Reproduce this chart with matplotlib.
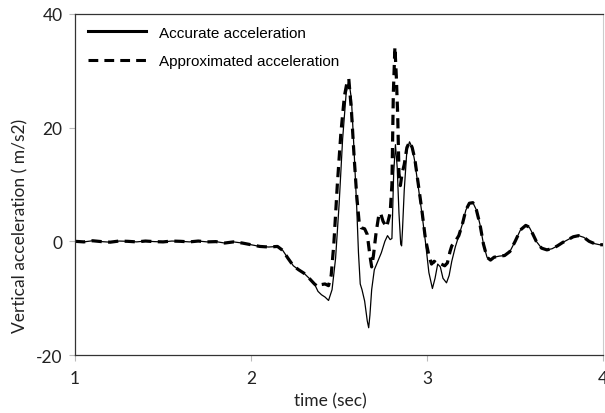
import matplotlib
matplotlib.use("Agg")
import matplotlib.pyplot as plt
from matplotlib.lines import Line2D

plt.rcParams["axes.unicode_minus"] = False

# common quiet start (both curves overlap)
t_start = [1.00, 1.05, 1.10, 1.15, 1.20, 1.25, 1.30, 1.35, 1.40, 1.45, 1.50, 1.55,
           1.60, 1.65, 1.70, 1.75, 1.80, 1.85, 1.90, 1.95, 2.00, 2.05, 2.10, 2.15,
           2.18, 2.21, 2.24, 2.27, 2.30, 2.33, 2.36]
a_start = [0.0, -0.1, 0.1, -0.05, -0.15, 0.05, 0.0, -0.1, 0.05, -0.05, -0.1, 0.05,
           0.0, -0.1, 0.05, -0.1, -0.05, -0.3, -0.1, -0.3, -0.6, -0.9, -1.0, -0.9,
           -1.6, -3.0, -4.3, -5.0, -5.6, -6.5, -7.5]

# accurate acceleration, strong motion part
t_acc_mid = [2.38, 2.40, 2.42, 2.44, 2.46, 2.48, 2.50, 2.52, 2.54, 2.555, 2.57, 2.585,
             2.60, 2.61, 2.62, 2.63, 2.645, 2.66, 2.668, 2.675, 2.685, 2.70, 2.72,
             2.74, 2.76, 2.775, 2.79, 2.80, 2.81, 2.82, 2.83, 2.84, 2.85, 2.855, 2.86,
             2.87, 2.885, 2.90, 2.915, 2.93, 2.95, 2.97, 2.99, 3.01, 3.03, 3.045, 3.06,
             3.075, 3.09, 3.11, 3.125, 3.14, 3.16]
a_acc_mid = [-8.8, -9.4, -9.8, -10.4, -8.5, -3.0, 6.5, 18.0, 26.0, 28.3, 25.0, 16.0,
             6.0, -2.0, -7.5, -8.5, -10.5, -14.0, -15.2, -13.0, -8.5, -5.0, -3.5,
             -2.0, 0.0, 1.0, 0.3, 0.5, 12.0, 17.0, 13.0, 5.0, -0.5, -0.8, 2.0,
             9.0, 16.0, 17.5, 16.5, 14.0, 9.5, 5.0, 0.0, -5.5, -8.3, -6.5, -4.0,
             -4.5, -6.5, -7.3, -6.0, -3.5, -1.0]

# approximated acceleration, strong motion part
t_app_mid = [2.38, 2.40, 2.42, 2.44, 2.455, 2.47, 2.49, 2.51, 2.53, 2.545, 2.555, 2.57,
             2.585, 2.60, 2.615, 2.625, 2.645, 2.66, 2.675, 2.685, 2.695, 2.71, 2.725,
             2.735, 2.75, 2.77, 2.79, 2.80, 2.808, 2.817, 2.825, 2.833, 2.84, 2.848,
             2.858, 2.87, 2.885, 2.90, 2.915, 2.93, 2.95, 2.97, 2.99, 3.01, 3.025,
             3.04, 3.06, 3.08, 3.10, 3.115, 3.13, 3.14, 3.16]
a_app_mid = [-8.0, -7.6, -7.5, -7.8, -6.0, -0.5, 10.0, 19.0, 25.5, 28.0, 28.6, 23.0,
             15.0, 8.0, 3.0, 2.4, 2.2, 1.2, -2.5, -4.5, -2.5, 1.5, 4.5,
             5.0, 3.5, 2.5, 5.0, 10.0, 26.0, 34.2, 29.0, 22.0, 12.0, 9.8,
             12.0, 13.5, 16.5, 17.5, 16.5, 14.5, 10.0, 5.5, 0.5, -2.5, -4.0,
             -3.5, -4.0, -4.0, -4.3, -3.8, -1.8, -0.8, 0.0]

# common decaying tail
t_end = [3.18, 3.20, 3.22, 3.24, 3.26, 3.28, 3.30, 3.32, 3.34, 3.36, 3.38, 3.41,
         3.44, 3.47, 3.50, 3.53, 3.56, 3.58, 3.60, 3.62, 3.65, 3.68, 3.71, 3.74,
         3.77, 3.80, 3.83, 3.86, 3.89, 3.92, 3.95, 3.98, 4.00]
a_end = [1.0, 3.0, 5.5, 6.7, 6.8, 5.5, 3.0, -0.5, -2.8, -3.3, -2.8, -2.6,
         -2.5, -1.8, 0.0, 2.0, 2.8, 2.5, 1.3, 0.0, -1.2, -1.5, -1.3, -0.8,
         -0.2, 0.3, 0.8, 1.0, 0.7, 0.0, -0.4, -0.6, -0.6]

t_acc = t_start + t_acc_mid + t_end
acc = a_start + a_acc_mid + a_end
t_app = t_start + t_app_mid + t_end
app = a_start + a_app_mid + a_end

fig = plt.figure(figsize=(6.05, 4.14), dpi=100)
ax = fig.add_axes([0.124, 0.140, 0.873, 0.824])

ax.plot(t_app, app, color="black", lw=2.3, linestyle=(0, (3.2, 2.0)))
ax.plot(t_acc, acc, color="black", lw=0.9)

ax.set_xlim(1, 4)
ax.set_ylim(-20, 40)
ax.set_xticks([1, 2, 3, 4])
ax.set_yticks([-20, 0, 20, 40])
ax.tick_params(axis="both", direction="out", length=4, width=0.8, color="#bbbbbb",
               labelcolor="#222222")
ax.tick_params(axis="x", pad=7)
ax.tick_params(axis="y", pad=5)
for lab in ax.get_xticklabels() + ax.get_yticklabels():
    lab.set_family("Lato")
    lab.set_fontsize(12.5)

for side in ["left", "bottom", "top"]:
    ax.spines[side].set_color("#333333")
    ax.spines[side].set_linewidth(0.9)
ax.spines["right"].set_color("#cccccc")

ax.set_xlabel("time (sec)", family="Lato", fontsize=12.5, color="#222222")
ax.xaxis.set_label_coords(0.483, -0.11)
ax.set_ylabel("Vertical acceleration ( m/s2)", family="Lato", fontsize=12.5,
              color="#222222")
ax.yaxis.set_label_coords(-0.088, 0.38)

handles = [Line2D([], [], color="black", lw=2.2),
           Line2D([], [], color="black", lw=2.2, linestyle=(0, (3.2, 2.0)))]
ax.legend(handles, ["Accurate acceleration", "Approximated acceleration"],
          loc="upper left", bbox_to_anchor=(-0.005, 1.01), frameon=False,
          prop={"family": "Liberation Sans", "size": 11},
          handlelength=3.8, handletextpad=0.85, labelspacing=0.95, borderaxespad=0.6)

fig.savefig("out.png", dpi=100)
